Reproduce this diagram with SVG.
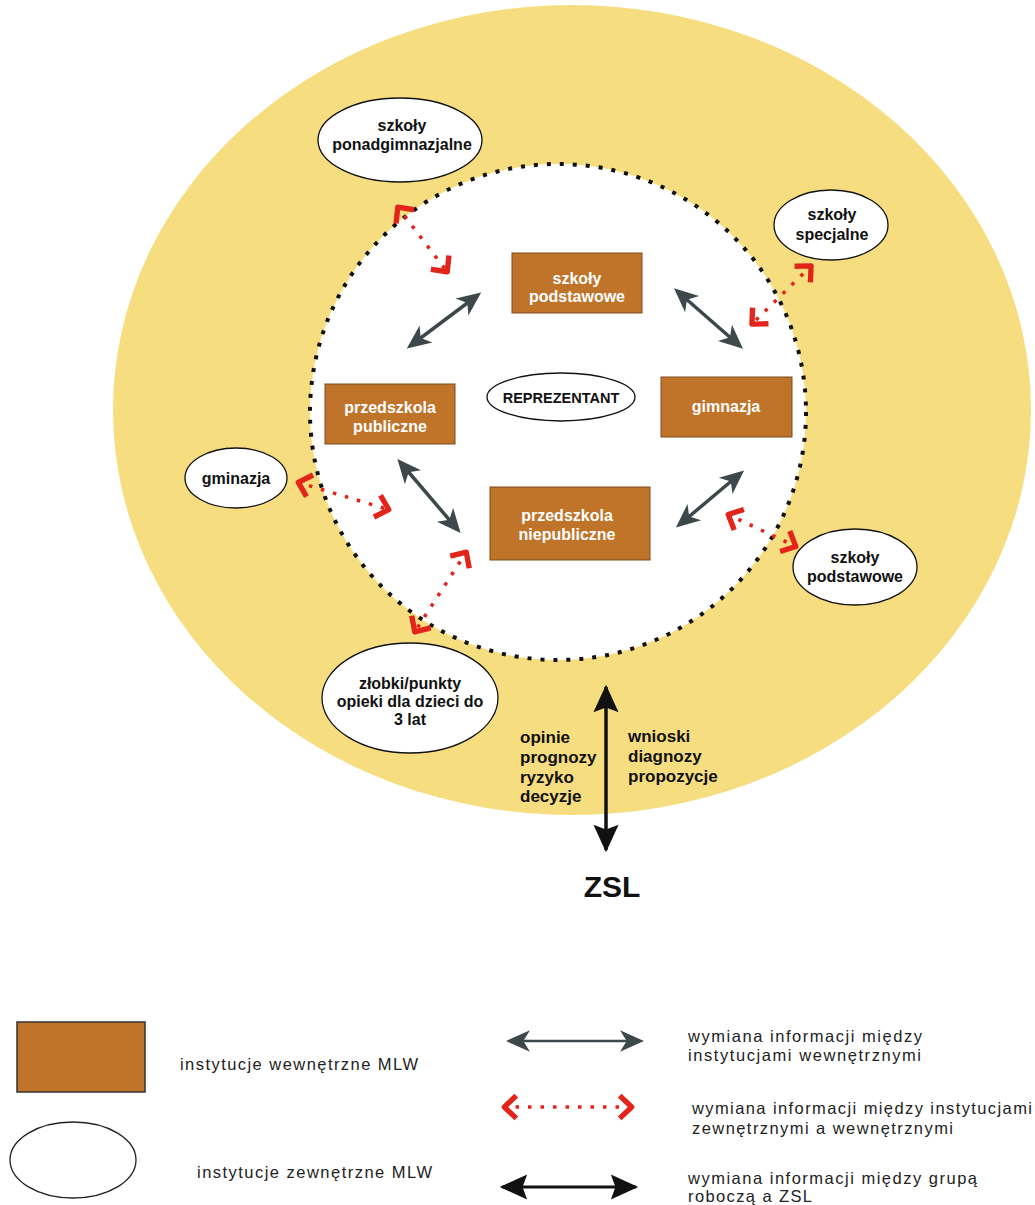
<svg xmlns="http://www.w3.org/2000/svg" width="1035" height="1205" viewBox="0 0 1035 1205">
<style>
.inst{fill:#C0742A;stroke:#7a4a1c;stroke-width:1}
.ext{fill:#fff;stroke:#111;stroke-width:1.3}
.wt{font-family:"Liberation Sans",Arial,sans-serif;font-weight:bold;font-size:16px;fill:#fff;text-anchor:middle}
.bt{font-family:"Liberation Sans",Arial,sans-serif;font-weight:bold;font-size:16px;fill:#111;text-anchor:middle}
.lt{font-family:"Liberation Sans",Arial,sans-serif;font-weight:bold;font-size:17px;fill:#111}
.lg{font-family:"Liberation Sans",Arial,sans-serif;font-size:16.5px;fill:#222}
.gray{stroke:#3d484b;stroke-width:3.5;fill:none}
.red{stroke:#E3241B;stroke-width:3.5;stroke-dasharray:3.5 9;fill:none}
.blk{stroke:#111;stroke-width:3.5;fill:none}
</style>
<defs>
<marker id="mg" markerUnits="userSpaceOnUse" orient="auto-start-reverse" refX="-3" refY="0" markerWidth="40" markerHeight="40" viewBox="-25 -15 30 30" overflow="visible">
<path d="M0,0 L-18,-8 L-13,0 L-18,8 Z" fill="#3d484b"/>
</marker>
<marker id="mr" markerUnits="userSpaceOnUse" orient="auto-start-reverse" refX="0" refY="0" markerWidth="40" markerHeight="40" viewBox="-25 -15 30 30" overflow="visible">
<path d="M-10,-8.5 L-1,0 L-10,8.5" fill="none" stroke="#E3241B" stroke-width="4" stroke-dasharray="none" stroke-linejoin="round"/>
</marker>
<marker id="mb" markerUnits="userSpaceOnUse" orient="auto-start-reverse" refX="-2" refY="0" markerWidth="40" markerHeight="40" viewBox="-30 -15 35 30" overflow="visible">
<path d="M0,0 L-24,-11 L-20,0 L-24,11 Z" fill="#111"/>
</marker>
</defs>
<rect width="1035" height="1205" fill="#fff"/>
<g id="outer-ring">
<ellipse cx="572" cy="410" rx="459" ry="405" fill="#F6DE80"/>
</g>
<g id="inner-circle">
<circle cx="558" cy="412" r="248" fill="#fff" stroke="#111" stroke-width="4" stroke-dasharray="4 9"/>
</g>
<g id="connectors">
<line class="gray" x1="478" y1="295" x2="410" y2="346" marker-start="url(#mg)" marker-end="url(#mg)"/>
<line class="gray" x1="677" y1="291" x2="740" y2="346" marker-start="url(#mg)" marker-end="url(#mg)"/>
<line class="gray" x1="400" y1="462" x2="458" y2="530" marker-start="url(#mg)" marker-end="url(#mg)"/>
<line class="gray" x1="741" y1="473" x2="679" y2="525" marker-start="url(#mg)" marker-end="url(#mg)"/>
<line class="red" x1="397" y1="206" x2="448" y2="273" marker-start="url(#mr)" marker-end="url(#mr)"/>
<line class="red" x1="812" y1="265" x2="751" y2="325" marker-start="url(#mr)" marker-end="url(#mr)"/>
<line class="red" x1="297" y1="482" x2="390" y2="510" marker-start="url(#mr)" marker-end="url(#mr)"/>
<line class="red" x1="467" y1="551" x2="414" y2="633" marker-start="url(#mr)" marker-end="url(#mr)"/>
<line class="red" x1="727" y1="514" x2="797" y2="547" marker-start="url(#mr)" marker-end="url(#mr)"/>
<line class="blk" x1="606" y1="687" x2="606" y2="850" marker-start="url(#mb)" marker-end="url(#mb)"/>
</g>
<g id="szkoly-podstawowe-int">
<rect class="inst" x="512" y="253" width="130" height="60"/>
<text class="wt" x="577" y="284">szkoły</text>
<text class="wt" x="577" y="302">podstawowe</text>
</g>
<g id="gimnazja">
<rect class="inst" x="661" y="377" width="131" height="60"/>
<text class="wt" x="726" y="412">gimnazja</text>
</g>
<g id="przedszkola-publiczne">
<rect class="inst" x="325" y="384" width="130" height="60"/>
<text class="wt" x="390" y="413">przedszkola</text>
<text class="wt" x="390" y="432">publiczne</text>
</g>
<g id="przedszkola-niepubliczne">
<rect class="inst" x="490" y="487" width="160" height="73"/>
<text class="wt" x="567" y="521">przedszkola</text>
<text class="wt" x="567" y="540">niepubliczne</text>
</g>
<g id="reprezentant">
<ellipse class="ext" cx="561" cy="397" rx="74" ry="24"/>
<text class="bt" x="561" y="403" style="font-size:14.5px">REPREZENTANT</text>
</g>
<g id="szkoly-ponadgimnazjalne">
<ellipse class="ext" cx="400" cy="140" rx="82" ry="42"/>
<text class="bt" x="402" y="131">szkoły</text>
<text class="bt" x="402" y="150">ponadgimnazjalne</text>
</g>
<g id="szkoly-specjalne">
<ellipse class="ext" cx="831" cy="225" rx="57" ry="35"/>
<text class="bt" x="832" y="220">szkoły</text>
<text class="bt" x="832" y="240">specjalne</text>
</g>
<g id="gminazja">
<ellipse class="ext" cx="236" cy="478" rx="51" ry="30"/>
<text class="bt" x="236" y="484">gminazja</text>
</g>
<g id="szkoly-podstawowe-ext">
<ellipse class="ext" cx="855" cy="567" rx="62" ry="38"/>
<text class="bt" x="855" y="563">szkoły</text>
<text class="bt" x="855" y="582">podstawowe</text>
</g>
<g id="zlobki">
<ellipse class="ext" cx="410" cy="698" rx="88" ry="55"/>
<text class="bt" x="410" y="689">złobki/punkty</text>
<text class="bt" x="410" y="707">opieki dla dzieci do</text>
<text class="bt" x="410" y="725">3 lat</text>
</g>
<g id="labels">
<text class="lt" x="520" y="743">opinie</text>
<text class="lt" x="520" y="763">prognozy</text>
<text class="lt" x="520" y="783">ryzyko</text>
<text class="lt" x="520" y="802">decyzje</text>
<text class="lt" x="628" y="742">wnioski</text>
<text class="lt" x="628" y="762">diagnozy</text>
<text class="lt" x="628" y="782">propozycje</text>
</g>
<g id="zsl">
<text x="612" y="897" style="font-family:'Liberation Sans',Arial,sans-serif;font-weight:bold;font-size:30px;fill:#111;text-anchor:middle">ZSL</text>
</g>
<g id="legend">
<rect x="17" y="1022" width="128" height="70" fill="#C0742A" stroke="#333" stroke-width="1.5"/>
<text class="lg" x="180" y="1070" textLength="238" lengthAdjust="spacing">instytucje wewnętrzne MLW</text>
<ellipse cx="73" cy="1160" rx="63" ry="38" fill="#fff" stroke="#222" stroke-width="1.3"/>
<text class="lg" x="197" y="1178" textLength="235" lengthAdjust="spacing">instytucje zewnętrzne MLW</text>
<line class="gray" style="stroke-width:2.5" x1="510" y1="1041" x2="640" y2="1041" marker-start="url(#mg)" marker-end="url(#mg)"/>
<line class="red" x1="503" y1="1107" x2="633" y2="1107" marker-start="url(#mr)" marker-end="url(#mr)"/>
<line class="blk" style="stroke-width:3" x1="502" y1="1187" x2="636" y2="1187" marker-start="url(#mb)" marker-end="url(#mb)"/>
<text class="lg" x="688" y="1042" textLength="234" lengthAdjust="spacing">wymiana informacji między</text>
<text class="lg" x="688" y="1061" textLength="233" lengthAdjust="spacing">instytucjami wewnętrznymi</text>
<text class="lg" x="692" y="1114" textLength="340" lengthAdjust="spacing">wymiana informacji między instytucjami</text>
<text class="lg" x="692" y="1134" textLength="261" lengthAdjust="spacing">zewnętrznymi a wewnętrznymi</text>
<text class="lg" x="688" y="1184" textLength="289" lengthAdjust="spacing">wymiana informacji między grupą</text>
<text class="lg" x="688" y="1202" textLength="124" lengthAdjust="spacing">roboczą a ZSL</text>
</g>
</svg>
